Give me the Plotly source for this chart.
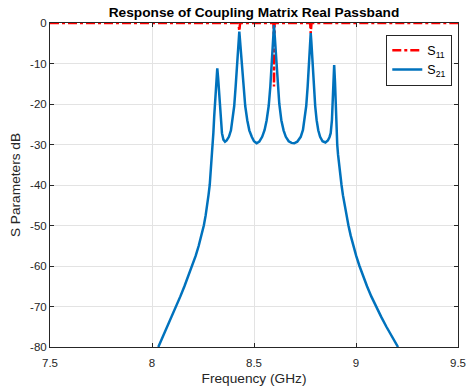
import plotly.graph_objects as go

# Filter response read as (frequency GHz, dB) pairs
s21_freq = [8.031, 8.053, 8.075, 8.097, 8.118, 8.139, 8.159, 8.178, 8.197, 8.214,
            8.229, 8.243, 8.254, 8.263, 8.271, 8.277, 8.283, 8.287, 8.291, 8.294,
            8.297, 8.301, 8.305, 8.310, 8.316, 8.320, 8.324, 8.327, 8.332, 8.337,
            8.343, 8.350, 8.358, 8.366, 8.377, 8.387, 8.395, 8.403, 8.410, 8.416,
            8.420, 8.425, 8.428, 8.431, 8.436, 8.441, 8.448, 8.457, 8.467, 8.477,
            8.489, 8.500, 8.513, 8.526, 8.540, 8.552, 8.562, 8.572, 8.580, 8.585,
            8.589, 8.594, 8.598, 8.602, 8.607, 8.611, 8.616, 8.624, 8.634, 8.645,
            8.656, 8.670, 8.684, 8.697, 8.712, 8.729, 8.740, 8.748, 8.756, 8.763,
            8.768, 8.771, 8.775, 8.778, 8.781, 8.784, 8.788, 8.793, 8.800, 8.807,
            8.815, 8.824, 8.836, 8.850, 8.862, 8.870, 8.876, 8.882, 8.886, 8.889,
            8.893, 8.897, 8.900, 8.903, 8.908, 8.912, 8.917, 8.922, 8.929, 8.936,
            8.944, 8.953, 8.963, 8.974, 8.987, 9.001, 9.017, 9.035, 9.054, 9.075,
            9.098, 9.123, 9.149, 9.177, 9.206]
s21_db = [-80, -77.5, -75, -72.5, -70, -67.5, -65, -62.5, -60, -57.5,
          -55, -52.5, -50, -47.5, -45, -42.5, -40, -37.5, -35, -32.5,
          -30, -27, -23, -18, -14, -11.2, -13.5, -15.7, -20.5, -24,
          -27.2, -28.8, -29.3, -29.0, -28.1, -26.5, -24, -20.5, -15.7, -11,
          -7.5, -4, -2.1, -4, -7.5, -11, -15.7, -20.5, -24, -26.5,
          -28.1, -29.2, -29.7, -29.3, -28.1, -26.4, -24, -20.5, -15.7, -11.5,
          -7.5, -3.5, -0.5, -3.5, -7.5, -11.5, -15.7, -20, -24, -26.5,
          -28.1, -29.2, -29.6, -29.7, -29.3, -28.1, -26.4, -24, -20.5, -15.7,
          -11, -7.5, -4.5, -2.5, -4.5, -7.5, -11, -15.7, -20.5, -24,
          -26.5, -28.1, -29.2, -29.5, -29.0, -28.2, -27.2, -24, -20, -15.7,
          -10.4, -14.5, -20, -26, -30, -32.5, -35, -37.5, -40, -42.5,
          -45, -47.5, -50, -52.5, -55, -57.5, -60, -62.5, -65, -67.5,
          -70, -72.5, -75, -77.5, -80]

s11_freq = [7.5, 8.422, 8.425, 8.428, 8.431, 8.434, 8.595, 8.597, 8.598, 8.599,
            8.601, 8.774, 8.776, 8.778, 8.780, 8.782, 9.5]
s11_db = [0, 0, -0.4, -2.0, -0.4, 0, 0, -2.0, -15.7, -2.0,
          0, 0, -0.5, -2.5, -0.5, 0, 0]

x_ticks = [7.5, 8, 8.5, 9, 9.5]
y_ticks = [0, -10, -20, -30, -40, -50, -60, -70, -80]

axis_color = "#262626"
grid_color = "#e3e3e3"
font_family = "Liberation Sans, Arial, sans-serif"

fig = go.Figure()
fig.add_trace(go.Scatter(
    x=s11_freq, y=s11_db, mode="lines", name="S<sub>11</sub>",
    line=dict(color="#ff0000", width=2.5, dash="dashdot"),
))
fig.add_trace(go.Scatter(
    x=s21_freq, y=s21_db, mode="lines", name="S<sub>21</sub>",
    line=dict(color="#0072bd", width=2.5),
))

axis_common = dict(
    showline=True, linecolor=axis_color, linewidth=1, mirror="ticks",
    ticks="inside", ticklen=4, tickcolor=axis_color,
    showgrid=True, gridcolor=grid_color, gridwidth=1,
    zeroline=False,
    tickfont=dict(family=font_family, size=11.5, color=axis_color),
)

fig.update_layout(
    width=468, height=391,
    margin=dict(l=50, r=10, t=23, b=44, autoexpand=False),
    paper_bgcolor="white", plot_bgcolor="white",
    font=dict(family=font_family, color=axis_color),
    title=dict(
        text="<b>Response of Coupling Matrix Real Passband</b>",
        x=(50 + 458) / 2 / 468, xanchor="center", xref="container",
        y=1 - 12 / 391, yref="container", yanchor="middle",
        font=dict(family=font_family, size=13.7, color="black"),
    ),
    xaxis=dict(
        range=[7.5, 9.5], tickvals=x_ticks, ticktext=[str(v) for v in x_ticks],
        ticklabelstandoff=5,
        title=dict(text="Frequency (GHz)", standoff=5,
                   font=dict(family=font_family, size=13.7, color=axis_color)),
        **axis_common,
    ),
    yaxis=dict(
        range=[-80, 0], tickvals=y_ticks, ticktext=[str(v) for v in y_ticks],
        title=dict(text="S Parameters dB", standoff=6,
                   font=dict(family=font_family, size=13.7, color=axis_color)),
        **axis_common,
    ),
    legend=dict(
        x=0.986, y=0.964, xanchor="right", yanchor="top",
        bgcolor="white", bordercolor=axis_color, borderwidth=1,
        font=dict(family=font_family, size=12.5, color="black"),
        tracegroupgap=2, itemwidth=30,
    ),
    showlegend=True,
)

fig.write_html("out.html")
